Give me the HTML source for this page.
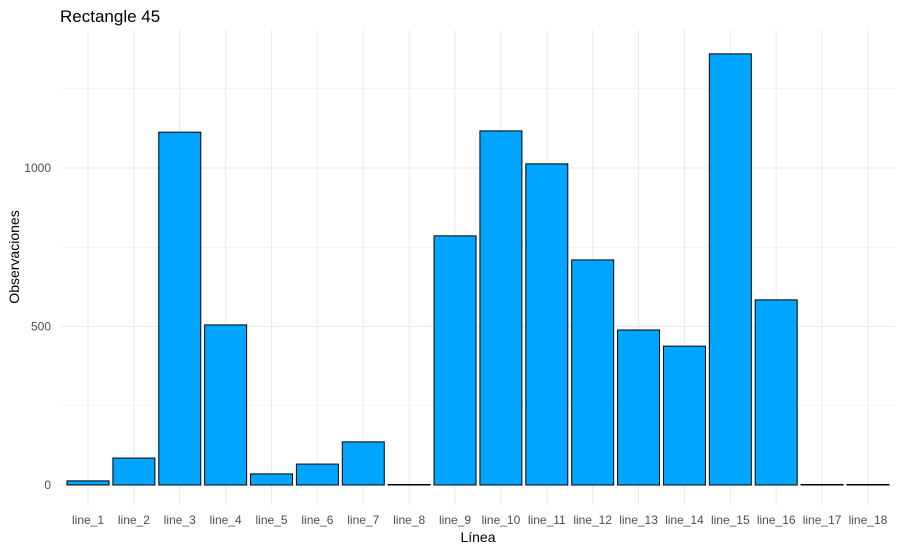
<!DOCTYPE html>
<html><head><meta charset="utf-8"><style>
body{margin:0;background:#fff;}
svg text{font-family:"Liberation Sans",sans-serif;}
</style></head><body>
<svg id="chart" width="903" height="551"></svg>
<script>
const categories=["line_1","line_2","line_3","line_4","line_5","line_6","line_7","line_8","line_9","line_10","line_11","line_12","line_13","line_14","line_15","line_16","line_17","line_18"];
const values=[13,85,1113,505,35,66,136,1,786,1117,1013,710,489,438,1360,584,1,1];
const yTicks=[0,500,1000];
const yMinor=[250,750,1250];
const NS="http://www.w3.org/2000/svg";
const svg=document.getElementById('chart');
function y(v){return 485-v*(158.5/500);}
function x(i){return 88+i*45.88;}
function mk(t,a,p){const e=document.createElementNS(NS,t);for(const k in a)e.setAttribute(k,a[k]);(p||svg).appendChild(e);return e;}
yMinor.forEach(v=>{const l=mk('line',{x1:60,x2:895,y1:y(v),y2:y(v),stroke:'#ebebeb','stroke-width':0.6});

});
yTicks.forEach(v=>{const l=mk('line',{x1:60,x2:895,y1:y(v),y2:y(v),stroke:'#ebebeb','stroke-width':1.1});


const t=mk('text',{x:51,y:y(v)+4,'text-anchor':'end','font-size':12,fill:'#4d4d4d'});t.textContent=v;

});
categories.forEach((c,i)=>{const l=mk('line',{x1:x(i),x2:x(i),y1:30,y2:505,stroke:'#ebebeb','stroke-width':1.1});

});
categories.forEach((c,i)=>{const h=Math.max(0.5,485-y(values[i]));
const r=mk('rect',{x:x(i)-21,y:485-h,width:42,height:h,fill:'#00a5ff',stroke:'#000','stroke-width':1});


const t=mk('text',{x:x(i),y:524,'text-anchor':'middle','font-size':12,fill:'#4d4d4d'});t.textContent=c;

});
let t=mk('text',{x:60,y:22,'font-size':17,fill:'#000'});t.textContent='Rectangle 45';


t=mk('text',{x:478,y:542,'text-anchor':'middle','font-size':14,fill:'#000'});t.textContent='Línea';


t=mk('text',{x:19,y:257,'text-anchor':'middle','font-size':14,fill:'#000',transform:'rotate(-90 19 257)'});t.textContent='Observaciones';


</script>
</body></html>
